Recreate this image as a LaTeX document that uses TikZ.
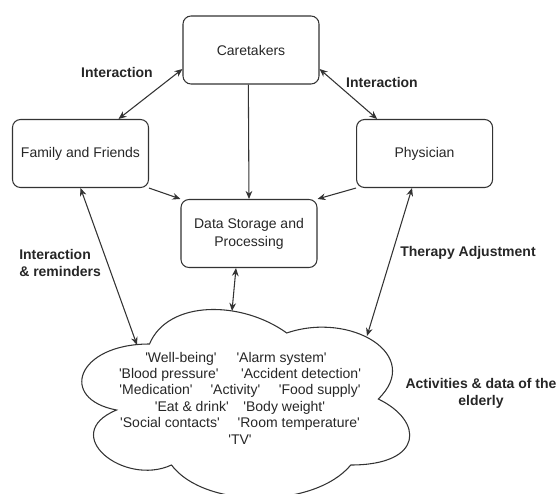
\documentclass[tikz,border=0pt]{standalone}
\usepackage{fontspec}
\setmainfont{Liberation Sans}
\usetikzlibrary{arrows.meta,positioning}
\tikzset{
  box/.style = {rectangle, draw=black!80, line width=0.8pt, rounded corners=6pt, minimum width=102pt, minimum height=51pt, align=center},
  tag/.style = {font=\fontsize{10.5}{12.75}\selectfont\bfseries, align=center},
  arr/.style = {draw=black!80, line width=0.8pt, -{Stealth[length=6pt,width=5pt]}},
  twoway/.style = {arr, {Stealth[length=6pt,width=5pt]}-{Stealth[length=6pt,width=5pt]}}
}
\newcommand{\itm}[1]{\textquotesingle#1\textquotesingle}

\begin{document}
\begin{tikzpicture}[
    x=0.75pt, y=-0.75pt,
    every node/.style={text=black!85, font=\fontsize{10.5}{13.5}\selectfont, inner sep=0pt},
    ]
\useasboundingbox (0,0) rectangle (557,493);
\clip (0,0) rectangle (557,493);

\node [box] (care) at (251,50) {Caretakers};
\node [box] (fam) at (80.5,153.5) {Family and Friends};
\node [box, right = 155.25pt of fam] (phy) {Physician};
\node [box] (data) at (249,233.5) {Data Storage and\\Processing};

% cloud of the elderly
\begin{scope}[shift={(58,289)}, x=274.5pt, y=-165pt]
\draw [black!80, line width=0.8pt]
  (0.25,0.25) .. controls (0.05,0.25) and (0,0.5) .. (0.16,0.55)
  .. controls (0,0.66) and (0.18,0.9) .. (0.31,0.8)
  .. controls (0.4,1) and (0.7,1) .. (0.8,0.8)
  .. controls (1,0.8) and (1,0.6) .. (0.875,0.5)
  .. controls (1,0.3) and (0.8,0.1) .. (0.625,0.2)
  .. controls (0.5,0.05) and (0.3,0.05) .. (0.25,0.25) -- cycle;
\end{scope}
\coordinate (cw) at (137,345);
\coordinate (ct) at (232,311);
\coordinate (ce) at (367,336);

\node [align=center, font=\fontsize{10.5}{12.3}\selectfont] (items) at (240,398) {%
  \itm{Well-being}\hspace{15pt}\itm{Alarm system}\hspace*{6pt}\\
  \itm{Blood pressure}\hspace{17pt}\itm{Accident detection}\\
  \itm{Medication}\hspace{13.5pt}\itm{Activity}\hspace{14pt}\itm{Food supply}\\
  \itm{Eat \& drink}\hspace{11pt}\itm{Body weight}\\
  \itm{Social contacts}\hspace{13.5pt}\itm{Room temperature}\\
  \itm{TV}};

\node [tag] (l1) at (117,72) {Interaction};
\node [tag] (l2) at (382,82) {Interaction};
\node [tag, align=left, anchor=west] (l3) at (19,262.5) {Interaction\\\& reminders};
\node [tag] (l4) at (468,253) {Therapy Adjustment};
\node [tag] (l5) at (481,393.5) {Activities \& data of the\\elderly};

\draw [twoway] ([xshift=28.5pt]fam.north) -- ([yshift=-14.25pt]care.west);
\draw [twoway] ([yshift=-14.25pt]care.east) -- ([xshift=-35.6pt]phy.north);
\draw [arr] ([xshift=-2pt]care.south) -- (data.north);
\draw [arr] (fam.south east) -- (data.north west);
\draw [arr] (phy.south west) -- (data.north east);
\draw [twoway] (fam.south) -- (cw);
\draw [twoway] ([xshift=-9.75pt]data.south) -- (ct);
\draw [twoway] ([xshift=-9.4pt]phy.south) -- (ce);

\end{tikzpicture}
\end{document}
